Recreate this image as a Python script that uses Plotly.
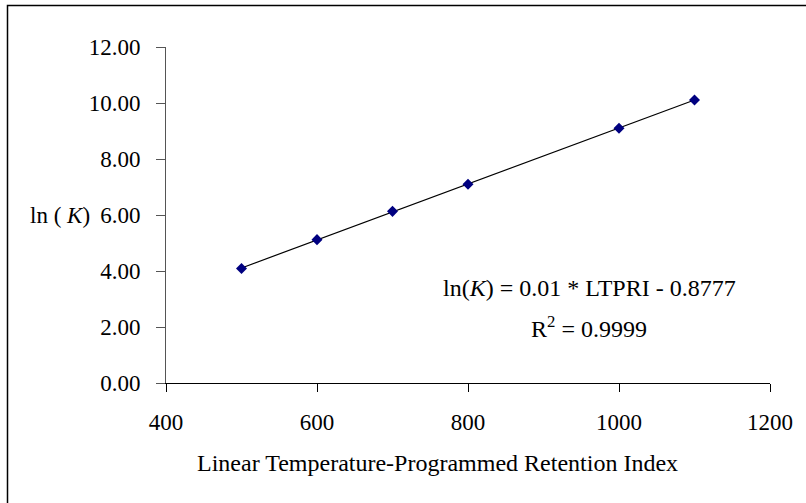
import numpy as np
import plotly.graph_objects as go

ltpri = [500, 600, 700, 800, 1000, 1100]
lnk = [4.09, 5.12, 6.13, 7.10, 9.10, 10.11]
y_ticks = [0, 2, 4, 6, 8, 10, 12]
x_ticks = [400, 600, 800, 1000, 1200]

slope, intercept = np.polyfit(ltpri, lnk, 1)
fit_x = [ltpri[0], ltpri[-1]]
fit_y = [slope * v + intercept for v in fit_x]

W, H = 806, 503
L, R, T, B = 166, 36, 47, 120
pw, ph = W - L - R, H - T - B

def px(xp):
    return (xp - L) / pw

def py(yp):
    return (H - B - yp) / ph

FONT = "Liberation Serif, Times New Roman, serif"
FS = 23
FS2 = 24

fig = go.Figure()
fig.add_trace(go.Scatter(x=fit_x, y=fit_y, mode="lines",
                         line=dict(color="black", width=1.2), hoverinfo="skip"))
fig.add_trace(go.Scatter(x=ltpri, y=lnk, mode="markers",
                         marker=dict(symbol="diamond", size=8.5, color="#000080",
                                     line=dict(width=0))))

fig.update_layout(
    width=W, height=H,
    margin=dict(l=L, r=R, t=T, b=B),
    paper_bgcolor="white", plot_bgcolor="white",
    showlegend=False,
    font=dict(family=FONT, size=FS, color="black"),
    xaxis=dict(range=[400, 1200], tickvals=x_ticks, ticks="outside", ticklen=8,
               tickcolor="black", showline=True, linecolor="black", linewidth=1,
               showgrid=False, zeroline=False, tickfont=dict(size=FS),
               ticklabelstandoff=10),
    yaxis=dict(range=[0, 12], tickvals=y_ticks, tickformat=".2f", ticks="outside",
               ticklen=9, tickcolor="#555555", showline=True, linecolor="#555555",
               linewidth=1, showgrid=False, zeroline=False, tickfont=dict(size=FS),
               ticklabelstandoff=11),
    annotations=[
        dict(xref="paper", yref="paper", x=px(437), y=py(463),
             text="Linear Temperature-Programmed Retention Index",
             showarrow=False, font=dict(size=FS2), xanchor="center", yanchor="middle"),
        dict(xref="paper", yref="paper", x=px(60), y=py(215), text="ln ( <i>K</i>)",
             showarrow=False, font=dict(size=FS), xanchor="center", yanchor="middle"),
        dict(xref="paper", yref="paper", x=px(589), y=py(288),
             text="ln(<i>K</i>) = 0.01 * LTPRI - 0.8777",
             showarrow=False, font=dict(size=FS2), xanchor="center", yanchor="middle"),
        dict(xref="paper", yref="paper", x=px(589), y=py(327),
             text="R<sup>2</sup> = 0.9999",
             showarrow=False, font=dict(size=FS2), xanchor="center", yanchor="middle"),
    ],
    shapes=[
        dict(type="rect", xref="paper", yref="paper", x0=px(7.5), x1=px(820),
             y0=py(520), y1=py(5.5), line=dict(color="black", width=1.5),
             fillcolor="rgba(0,0,0,0)", layer="above"),
    ],
)

fig.write_html("out.html")
